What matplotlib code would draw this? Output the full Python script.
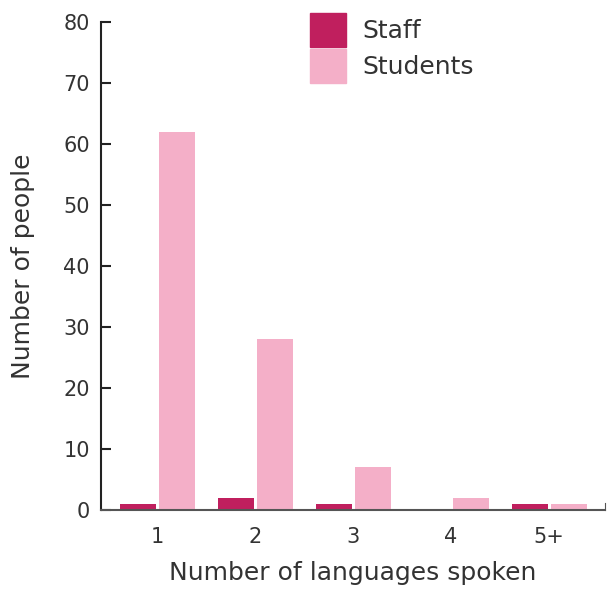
import matplotlib.pyplot as plt
import numpy as np
from matplotlib.patches import Patch

categories = ["1", "2", "3", "4", "5+"]
staff = [1, 2, 1, 0, 1]
students = [62, 28, 7, 2, 1]
y_ticks = [0, 10, 20, 30, 40, 50, 60, 70, 80]

staff_color = "#C01F5E"
student_color = "#F4AFC8"
text_color = "#333333"

plt.rcParams['font.family'] = ['DejaVu Sans']

fig = plt.figure(figsize=(6.08, 5.90), dpi=100)
ax = fig.add_axes([0.166, 0.1356, 0.829, 0.8271])

x = np.arange(len(categories))
w = 0.37
ax.bar(x - 0.195, staff, width=w, color=staff_color)
ax.bar(x + 0.205, students, width=w, color=student_color)

ax.set_xlim(-0.57, 4.57)
ax.set_ylim(0, 80)
ax.set_yticks(y_ticks)
ax.set_xticks(x)
ax.set_xticklabels(categories)

ax.tick_params(axis='y', direction='in', length=7, width=1.5, color='#222222',
               labelsize=15, labelcolor=text_color, pad=8)
ax.tick_params(axis='x', length=0, labelsize=15, labelcolor=text_color, pad=12)

ax.spines['top'].set_visible(False)
ax.spines['right'].set_bounds(0, 1.2)
ax.spines['right'].set_color('#555555')
ax.spines['left'].set_linewidth(1.5)
ax.spines['left'].set_color('#222222')
ax.spines['bottom'].set_linewidth(1.5)
ax.spines['bottom'].set_color('#555555')

ax.set_xlabel("Number of languages spoken", fontsize=18, color=text_color, labelpad=10)
ax.set_ylabel("Number of people", fontsize=18, color=text_color, labelpad=20)

handles = [Patch(color=staff_color, label="Staff"),
           Patch(color=student_color, label="Students")]
ax.legend(handles=handles, loc='upper left', bbox_to_anchor=(0.415, 1.018),
          frameon=False, fontsize=18, handlelength=1.44, handleheight=1.7,
          handletextpad=0.64, labelspacing=0.08, borderpad=0, borderaxespad=0,
          labelcolor=text_color)

fig.savefig("out.png", dpi=100)
